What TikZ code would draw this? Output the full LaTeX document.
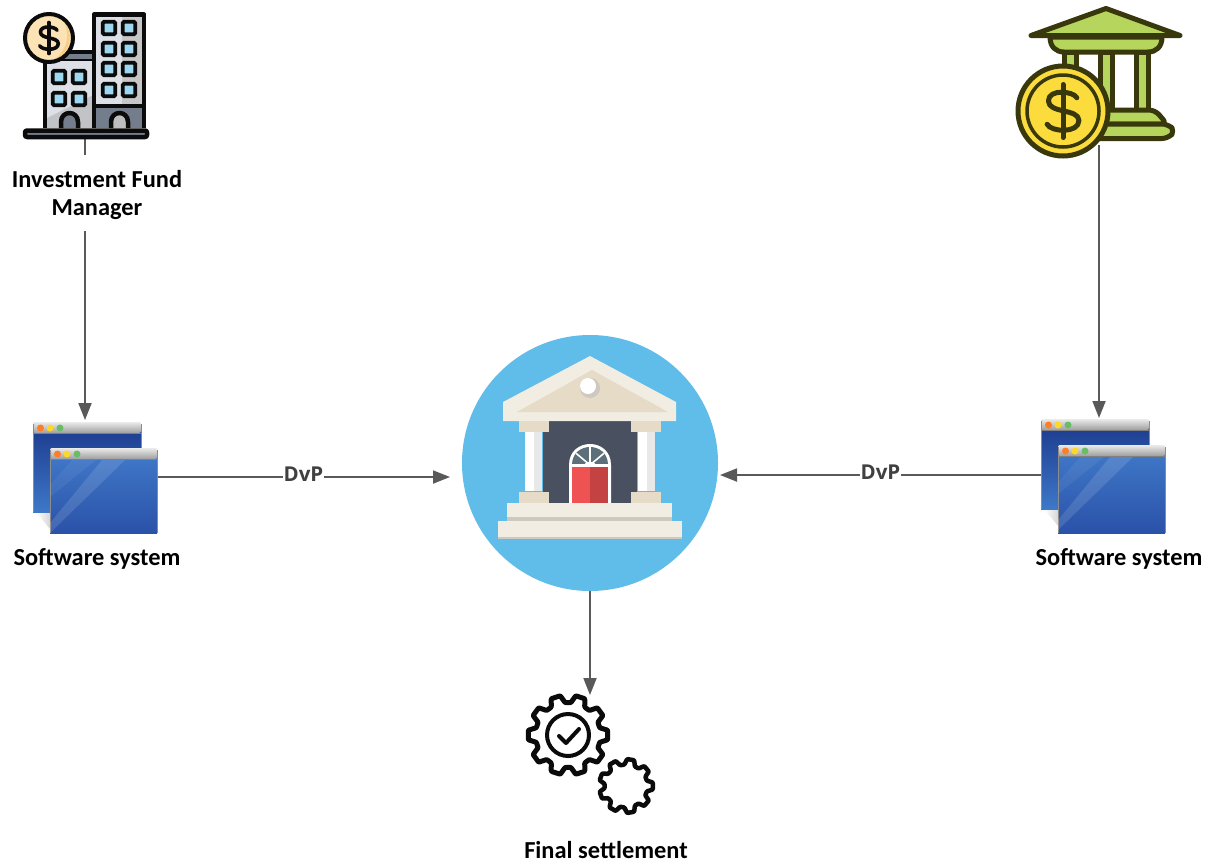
\documentclass[tikz,border=0pt]{standalone}
\usepackage{fontspec}
\usetikzlibrary{arrows.meta}
\setmainfont{Carlito}
\newfontfamily\dvpfont{Open Sans}
\definecolor{arrowgray}{HTML}{595959}
\definecolor{ink}{HTML}{0B0B0B}
\definecolor{olive}{HTML}{38380C}
\definecolor{leaf}{HTML}{B5D55C}
\definecolor{coin}{HTML}{FBDC3C}
\definecolor{sky}{HTML}{60BCE8}
\definecolor{cream}{HTML}{F1EDE2}
\definecolor{sand}{HTML}{E5DBC7}
\definecolor{slate}{HTML}{49505F}
\definecolor{pane}{HTML}{9DD8F0}
\definecolor{wallg}{HTML}{DDE0E6}
\definecolor{steel}{HTML}{737D8C}
\definecolor{fan}{HTML}{5D6F78}
\definecolor{doorl}{HTML}{EE5253}
\definecolor{doorr}{HTML}{C44242}
\definecolor{backtop}{HTML}{1D3C8F}
\definecolor{backbot}{HTML}{3E78C8}
\definecolor{fronttop}{HTML}{4078C8}
\definecolor{frontbot}{HTML}{2A52A8}
\definecolor{coinlight}{HTML}{FBE3B5}
\definecolor{coindark}{HTML}{F7CF85}
\tikzset{
  x=1pt,y=-1pt,
  conn/.style={draw=arrowgray,line width=1.8pt,-{Triangle[length=17pt,width=13pt]}},
  textlabel/.style={font=\fontsize{24.4}{28}\selectfont\bfseries,text=black,align=center,inner sep=0pt},
  dvp/.style={font=\dvpfont\fontsize{20.5}{24}\selectfont\bfseries,text=black!75,fill=white,inner sep=0.5pt},
  anchorbox/.style={inner sep=0pt,outer sep=0pt},
  heavy/.style={draw=ink,line width=4.5pt,line join=round},
  oliveline/.style={draw=olive,fill=leaf,line width=5pt,line join=round},
}
\newcommand{\dollarmark}[5]{%
  \begin{scope}[shift={(#1,#2)},x=#3pt,y=-#3pt]
    \draw[#4,line width=#5,line cap=round,line join=round]
      (0.52,-0.5) .. controls (0.4,-0.75) and (-0.55,-0.85) .. (-0.55,-0.38)
      .. controls (-0.55,0.1) and (0.6,-0.1) .. (0.6,0.36)
      .. controls (0.6,0.85) and (-0.45,0.8) .. (-0.6,0.5);
    \draw[#4,line width=#5,line cap=round] (0,-1) -- (0,1);
  \end{scope}}
\newcommand{\appwindow}[6]{%
  \shade[top color=#5,bottom color=#6] (#1,#2+6) rectangle (#1+#3,#2+#4);
  \shade[top color=black!8,bottom color=black!38,rounded corners=2pt] (#1,#2+11) -- (#1,#2) -- (#1+#3,#2) -- (#1+#3,#2+11) -- cycle;
  \fill[black!50] (#1,#2+11) rectangle (#1+#3,#2+12);
  \draw[black!45,line width=0.8pt] (#1,#2+#4) -- (#1,#2+2) (#1+#3,#2+2) -- (#1+#3,#2+#4);
  \fill[orange!80!red!85!white] (#1+7.5,#2+6) circle (3.5);
  \fill[yellow!70!orange!85!white] (#1+17,#2+6) circle (3.5);
  \fill[green!40!gray!85!white] (#1+27,#2+6) circle (3.5);
}
\newcommand{\gearicon}[6]{%
  \draw[heavy,line width=#6,rounded corners=0.8pt]
    ({#1+#5*cos(0.64*360/#3)},{#2+#5*sin(0.64*360/#3)})
    \foreach \k in {1,...,#3}{
      -- ({#1+#4*cos((\k-0.19)*360/#3)},{#2+#4*sin((\k-0.19)*360/#3)})
      -- ({#1+#4*cos((\k+0.19)*360/#3)},{#2+#4*sin((\k+0.19)*360/#3)})
      -- ({#1+#5*cos((\k+0.36)*360/#3)},{#2+#5*sin((\k+0.36)*360/#3)})
      -- ({#1+#5*cos((\k+0.64)*360/#3)},{#2+#5*sin((\k+0.64)*360/#3)})
    } -- cycle;
}
\begin{document}
\begin{tikzpicture}
\useasboundingbox (0,0) rectangle (1206,863);
\fill[white] (0,0) rectangle (1206,863);

% --- invisible anchors for the icons
\node[anchorbox,minimum width=128pt,minimum height=126pt] (fund) at (85,76) {};
\node[anchorbox,minimum width=160pt,minimum height=158pt] (bank) at (1099,66) {};
\node[anchorbox,minimum width=125pt,minimum height=114pt] (swa) at (85,477) {};
\node[anchorbox,minimum width=125pt,minimum height=114pt] (swb) at (1099,475) {};
\node[anchorbox,circle,minimum size=256pt] (central) at (590,463) {};
\node[anchorbox,minimum width=130pt,minimum height=122pt] (gears) at (590,756) {};
\coordinate (swaE) at (157,477);
\coordinate (cenW) at (450,477);
\coordinate (swbW) at (1041,475);
\coordinate (cenE) at (720,475);

% --- connectors
\draw[conn] (fund.south) -- (swa.north);
\draw[conn] (bank.south) -- (swb.north);
\draw[conn] (swaE) -- node[dvp,pos=0.5,yshift=3pt] (dvpa) {DvP} (cenW);
\draw[conn] (swbW) -- node[dvp,pos=0.5,yshift=3pt] (dvpb) {DvP} (cenE);
\draw[conn] (central.south) -- (gears.north);

% --- fund manager icon
\fill[wallg] (43,55) rectangle (93,128);
\fill[wallg!70!gray] (43,128) -- (43,120) -- (93,95) -- (93,128) -- cycle;
\fill[wallg] (93,13) rectangle (146,128);
\fill[black!22] (122,15) rectangle (144,105);
\fill[steel] (93,107) rectangle (146,128);
\fill[steel] (43,50) rectangle (93,60);
\draw[heavy] (45,128) -- (45,52) -- (93,52);
\draw[heavy] (94,128) -- (94,14.5) -- (144,14.5) -- (144,128);
\draw[heavy] (94,106) -- (144,106);
\draw[heavy,line width=2.5pt] (45,60) -- (93,60);
\foreach \xx in {109,129}{\foreach \yy in {28,49,69,90}{
  \draw[draw=ink,fill=pane,line width=3.8pt,rounded corners=1.5pt] (\xx-6.3,\yy-6.3) rectangle (\xx+6.3,\yy+6.3);}}
\foreach \xx in {59,79}{\foreach \yy in {77,99}{
  \draw[draw=ink,fill=pane,line width=3.8pt,rounded corners=1.5pt] (\xx-6.3,\yy-6.3) rectangle (\xx+6.3,\yy+6.3);}}
\draw[heavy,fill=steel] (61,128) -- (61,122) .. controls (61,110) and (78,110) .. (78,122) -- (78,128);
\draw[heavy,fill=black!25] (111,128) -- (111,122) .. controls (111,110) and (128,110) .. (128,122) -- (128,128);
\draw[heavy,fill=steel,rounded corners=2pt] (25,130.5) rectangle (147,137);
\fill[coinlight] (49,38) circle (24);
\fill[coindark] (62,18) .. controls (76,35) and (70,55) .. (52,61) .. controls (70,50) and (70,30) .. (62,18) -- cycle;
\draw[heavy,line width=4pt] (49,38) circle (24);
\dollarmark{49}{38}{15.5}{ink}{3.6pt}

% --- right bank icon
\draw[oliveline] (1031,35.5) -- (1106,8.5) -- (1180,35.5) -- cycle;
\draw[oliveline] (1050,37) .. controls (1050,47) and (1056,52) .. (1064,52) -- (1148,52) .. controls (1156,52) and (1162,47) .. (1162,37) -- cycle;
\foreach \cl in {1064.5,1100.5,1136.5}{
  \draw[oliveline] (\cl,52) rectangle (\cl+11.5,110);}
\draw[oliveline,rounded corners=6pt] (1100,110) -- (1155,110) -- (1167,124) -- (1100,124) -- cycle;
\draw[oliveline,rounded corners=6pt] (1090,124) -- (1168,124) -- (1175,131) -- (1168,138.5) -- (1090,138.5) -- cycle;
\draw[draw=olive,fill=coin,line width=5pt] (1063,111) circle (45);
\draw[draw=olive,line width=3.5pt] (1063,111) circle (36);
\dollarmark{1063}{111}{26.5}{olive}{5pt}

% --- central bank
\fill[sky] (central.center) circle (128);
\fill[slate] (543,421) rectangle (637,503);
\fill[cream] (590,356) -- (676,402) -- (676,421) -- (503,421) -- (503,402) -- cycle;
\fill[sand] (592,370) -- (668,412) -- (517,412) -- cycle;
\fill[cream!85!black] (590,388) circle (10);
\fill[white] (588,386) circle (8);
\foreach \ox/\bx in {519/525,631/638}{
  \fill[sand] (\ox,421) rectangle (\ox+30,432);
  \fill[white] (\bx,432) rectangle (\bx+17,491);
  \fill[black!9] (\bx+9,432) rectangle (\bx+17,491);
  \fill[sand] (\ox,492) rectangle (\ox+30,503);
}
\fill[white] (569,503) -- (569,465) .. controls (569,437) and (611,437) .. (611,465) -- (611,503) -- cycle;
\fill[fan] (572,465) .. controls (572,441) and (608,441) .. (608,465) -- cycle;
\foreach \ang in {40,90,140}{
  \draw[white,line width=1.6pt] (590,465) -- ++({18*cos(\ang)},{-18*sin(\ang)});}
\fill[white] (590,465) ellipse (6 and 3);
\fill[white] (572,464) rectangle (608,467);
\fill[doorl] (572,467) rectangle (590,503);
\fill[doorr] (590,467) rectangle (608,503);
\fill[cream] (507,503) rectangle (672,517);
\fill[black!15!cream] (507,517) rectangle (672,521);
\fill[cream] (498,521) rectangle (682,537);
\fill[black!15!cream] (498,537) rectangle (682,539);

% --- software windows
\shade[left color=white,right color=black!16] (36,512) -- (50,512) -- (50,529) -- cycle;
\appwindow{33}{422}{108}{90}{backtop}{backbot}
\appwindow{50}{448}{107}{85}{fronttop}{frontbot}
\fill[white,opacity=0.12] (50,533) -- (50,523) -- (102,460) -- (125,460) -- cycle;
\fill[white,opacity=0.06] (50,497) -- (50,485) -- (72,460) -- (96,460) -- cycle;
\shade[left color=white,right color=black!16] (1044,509) -- (1058,509) -- (1058,526) -- cycle;
\appwindow{1041}{419}{108}{90}{backtop}{backbot}
\appwindow{1058}{445}{107}{88}{fronttop}{frontbot}
\fill[white,opacity=0.12] (1058,530) -- (1058,520) -- (1110,457) -- (1133,457) -- cycle;
\fill[white,opacity=0.06] (1058,494) -- (1058,482) -- (1080,457) -- (1104,457) -- cycle;

% --- gears
\gearicon{568}{735}{10}{40}{32.5}{5pt}
\draw[draw=ink,line width=4pt] (568,735) circle (21);
\draw[draw=ink,line width=4pt,line cap=round,line join=round] (559,736) -- (566,743) -- (579,729);
\gearicon{626}{786}{9}{27}{21.5}{4.5pt}

% --- labels
\fill[white] (10,155) rectangle (185,231);
\node[textlabel] (fundlabel) at (97,194.5) {Investment Fund\\Manager};
\node[textlabel] (swalabel) at (97,559) {Software system};
\node[textlabel] (swblabel) at (1119,559) {Software system};
\node[textlabel] (finallabel) at (606,850) {Final settlement};
\end{tikzpicture}
\end{document}
